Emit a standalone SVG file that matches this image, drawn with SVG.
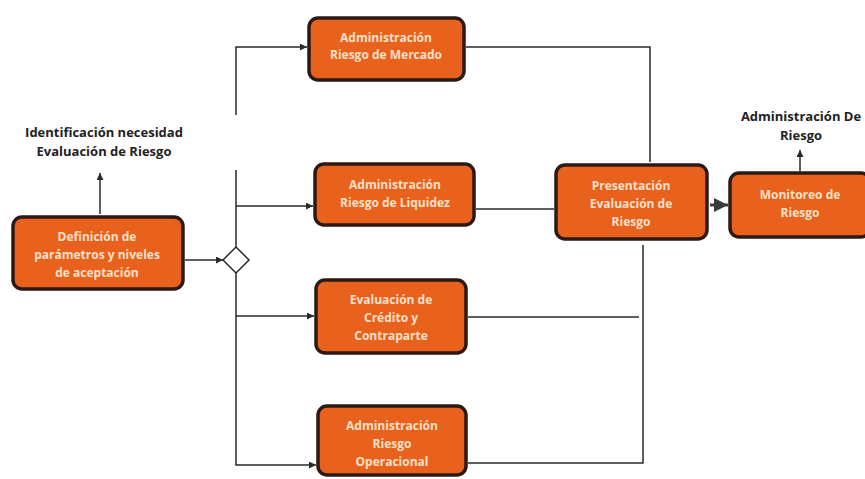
<svg xmlns="http://www.w3.org/2000/svg" width="865" height="479" viewBox="0 0 865 479">
<defs>
<style>
.box{fill:#e8621e;stroke:#2b1a14;stroke-width:3.5}
.nt{font-family:"Open Sans","Liberation Sans",sans-serif;font-weight:bold;font-size:12px;fill:#fbe0c8;text-anchor:middle}
.lt{font-family:"Open Sans","Liberation Sans",sans-serif;font-weight:bold;font-size:13px;fill:#222;text-anchor:middle}
.ln{fill:none;stroke:#2a2a2a;stroke-width:1.5}
</style>
<marker id="ah" viewBox="0 0 10 10" refX="10" refY="5" markerWidth="7" markerHeight="7" markerUnits="userSpaceOnUse" orient="auto">
<path d="M0,0 L10,5 L0,10 z" fill="#2a2a2a"/>
</marker>
<marker id="ahb" viewBox="0 0 10 10" refX="10" refY="5" markerWidth="14" markerHeight="14" markerUnits="userSpaceOnUse" orient="auto">
<path d="M0,0 L10,5 L0,10 z" fill="#3a3a3a"/>
</marker>
</defs>
<rect width="865" height="479" fill="#ffffff"/>
<g id="connectors">
<path class="ln" d="M100,214 V173" marker-end="url(#ah)"/>
<path class="ln" d="M185,260 H223" marker-end="url(#ah)"/>
<path class="ln" d="M236,115 V47 H307" marker-end="url(#ah)"/>
<path class="ln" d="M236,170 V465 H316" marker-end="url(#ah)"/>
<path class="ln" d="M236,206 H313" marker-end="url(#ah)"/>
<path class="ln" d="M236,316 H314" marker-end="url(#ah)"/>
<path class="ln" d="M466,47 H650 V162"/>
<path class="ln" d="M476,209 H554"/>
<path class="ln" d="M468,317 H639"/>
<path class="ln" d="M643,245 V463 H468"/>
<path fill="none" stroke="#3a3a3a" stroke-width="3" d="M710,205 H728" marker-end="url(#ahb)"/>
<path class="ln" d="M800,171 V150" marker-end="url(#ah)"/>
</g>
<g id="diamond">
<polygon points="236,247 249,260 236,273 223,260" fill="#fff" stroke="#2a2a2a" stroke-width="1.5"/>
</g>
<g id="label-identificacion">
<text class="lt" x="104" y="137">Identificación necesidad</text>
<text class="lt" x="104" y="156">Evaluación de Riesgo</text>
</g>
<g id="label-administracion">
<text class="lt" x="801" y="121">Administración De</text>
<text class="lt" x="801" y="140">Riesgo</text>
</g>
<g id="definicion">
<rect class="box" x="13" y="217" width="170" height="72" rx="9"/>
<text class="nt" x="97" y="241">Definición de</text>
<text class="nt" x="97" y="259">parámetros y niveles</text>
<text class="nt" x="97" y="277">de aceptación</text>
</g>
<g id="mercado">
<rect class="box" x="309" y="18" width="155" height="62" rx="9"/>
<text class="nt" x="386" y="42">Administración</text>
<text class="nt" x="386" y="59">Riesgo de Mercado</text>
</g>
<g id="liquidez">
<rect class="box" x="315" y="164" width="159" height="61" rx="9"/>
<text class="nt" x="395" y="189">Administración</text>
<text class="nt" x="395" y="207">Riesgo de Liquidez</text>
</g>
<g id="credito">
<rect class="box" x="316" y="280" width="150" height="73" rx="9"/>
<text class="nt" x="391" y="304">Evaluación de</text>
<text class="nt" x="391" y="322">Crédito y</text>
<text class="nt" x="391" y="340">Contraparte</text>
</g>
<g id="operacional">
<rect class="box" x="318" y="406" width="148" height="69" rx="9"/>
<text class="nt" x="392" y="430">Administración</text>
<text class="nt" x="392" y="448">Riesgo</text>
<text class="nt" x="392" y="466">Operacional</text>
</g>
<g id="presentacion">
<rect class="box" x="556" y="165" width="151" height="74" rx="9"/>
<text class="nt" x="631" y="190">Presentación</text>
<text class="nt" x="631" y="208">Evaluación de</text>
<text class="nt" x="631" y="226">Riesgo</text>
</g>
<g id="monitoreo">
<rect class="box" x="730" y="173" width="140" height="64" rx="9"/>
<text class="nt" x="800" y="199">Monitoreo de</text>
<text class="nt" x="800" y="217">Riesgo</text>
</g>
</svg>
